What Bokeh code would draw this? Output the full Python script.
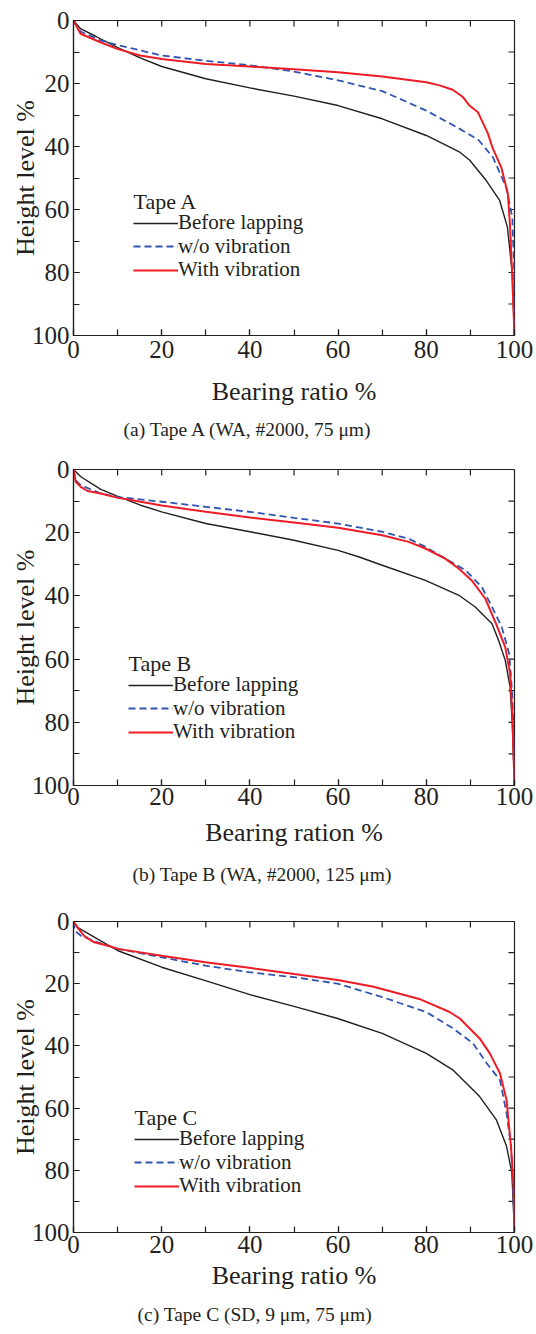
import math
from bokeh.plotting import figure
from bokeh.models import Range1d, SingleIntervalTicker, Legend, LegendItem, Label
from bokeh.layouts import column
from bokeh.embed import file_html
from bokeh.resources import INLINE

FONT = "Liberation Serif"
INK = "#231f20"
RED = "#ee1c25"
BLUE = "#2f55b0"

# ---------------- data (bearing ratio %, height level %) ----------------
a_before_x = [0, 1.6, 5, 9.9, 15, 20, 30, 40, 50, 60, 70, 80, 87.6, 89.8, 93.6, 96.6, 98.4, 99.5, 100]
a_before_y = [0, 2.6, 5.0, 8.5, 11.8, 14.6, 18.5, 21.4, 24.0, 27.0, 31.2, 36.5, 41.8, 44.3, 50.8, 57, 65.6, 80.4, 100]
a_wo_x = [0, 1.6, 6.1, 10, 20, 30, 40, 50, 60, 70, 80, 87.6, 91.9, 95.1, 98.1, 99.5, 99.9, 100]
a_wo_y = [0, 3.5, 6.3, 7.8, 11.1, 12.8, 14.2, 16.2, 19.0, 22.4, 28.6, 34.4, 38.0, 43.4, 52.9, 62.4, 78.3, 100]
a_with_x = [0, 1.6, 6.1, 9.9, 15.1, 20, 30, 40, 50, 60, 70, 80, 83, 86, 88.3, 89.8, 91.7, 94.0, 95.1, 97.0, 98.5, 99.0, 99.4, 100]
a_with_y = [0, 4.2, 6.9, 9.0, 11.1, 12.2, 13.8, 14.6, 15.5, 16.4, 17.8, 19.6, 20.6, 22.0, 24.3, 27.0, 29.1, 36.0, 40.7, 46.6, 55.0, 65.6, 78.3, 100]

b_before_x = [0, 1.65, 6.2, 9.9, 15.2, 20, 30, 40, 50, 60, 64.8, 70, 79.8, 87.4, 91.1, 94.9, 96.4, 97.9, 99, 99.5, 100]
b_before_y = [0, 2.3, 6.3, 8.4, 11.3, 13.4, 17.1, 19.7, 22.4, 25.6, 27.7, 30.3, 35.1, 39.8, 43.5, 48.8, 54.1, 60.4, 68.8, 80.5, 100]
b_wo_x = [0, 0.5, 1.65, 6.2, 9.9, 20, 30, 40, 50, 60, 70, 76, 79.8, 84.3, 88.9, 92.6, 94.9, 97.1, 98.8, 99.5, 99.85, 100]
b_wo_y = [0, 3.4, 5.0, 7.6, 8.7, 10.2, 11.8, 13.4, 15.3, 17.1, 19.7, 21.9, 24.5, 28.2, 31.9, 37.2, 43.5, 49.8, 58.3, 71, 85.7, 100]
b_with_x = [0, 0.5, 1.65, 3.2, 6.2, 9.9, 15.2, 20, 30, 40, 50, 60, 70, 76, 79.8, 84.3, 87.4, 90.3, 93.4, 95.8, 97.9, 99, 99.5, 100]
b_with_y = [0, 3.9, 5.5, 6.8, 7.6, 8.9, 10.2, 11.4, 13.4, 15.2, 16.8, 18.4, 20.8, 22.9, 25, 28.2, 31.4, 35.1, 40.9, 48.8, 56.2, 64.6, 77.3, 100]

c_before_x = [0, 0.9, 5.5, 10.1, 20, 29.9, 40, 50, 59.9, 70, 80, 86.1, 92.1, 95.9, 98.2, 99.4, 100]
c_before_y = [0, 1.9, 5.7, 9.4, 14.7, 19.0, 23.5, 27.3, 31.2, 36, 42.4, 47.8, 56.3, 63.8, 72.3, 80.8, 100]
c_wo_x = [0, 0.3, 1.7, 5.5, 10.1, 20, 29.9, 39.8, 50, 59.9, 70, 80, 86.1, 90.6, 93.7, 96.7, 98.2, 99.2, 99.6, 100]
c_wo_y = [0, 3, 4.6, 6.7, 8.8, 11.5, 14.2, 16.3, 17.9, 20, 24.3, 29.1, 34.4, 39.2, 45.6, 51, 61.6, 72.3, 83, 100]
c_with_x = [0, 0.9, 2.4, 4.7, 7.8, 10.1, 20, 29.9, 39.8, 50, 59.9, 67.8, 78.4, 85.3, 87.6, 92.1, 94.4, 96.7, 98.2, 99.2, 99.8, 100]
c_with_y = [0, 1.9, 4.6, 6.7, 7.8, 8.8, 11, 13.1, 14.9, 16.9, 18.8, 20.9, 24.9, 29.1, 31.2, 37.6, 42.4, 48.8, 57.4, 72.3, 85, 100]

series_labels = ["Before lapping", "w/o vibration", "With vibration"]
tape_titles = ["Tape A", "Tape B", "Tape C"]
x_labels = ["Bearing ratio %", "Bearing ration %", "Bearing ratio %"]
y_label = "Height level %"
captions = ["(a) Tape A (WA, #2000, 75 \u03bcm)",
            "(b) Tape B (WA, #2000, 125 \u03bcm)",
            "(c) Tape C (SD, 9 \u03bcm, 75 \u03bcm)"]
edge_ticks = [10, 20, 30, 40, 50, 60, 70, 80, 90]
x_start, x_end = 0, 100
y_top, y_bottom = 0, 100


def style_axis(ax):
    ax.ticker = SingleIntervalTicker(interval=20, num_minor_ticks=2)
    ax.major_tick_in = 6
    ax.major_tick_out = 0
    ax.minor_tick_in = 6
    ax.minor_tick_out = 0
    ax.axis_line_color = INK
    ax.axis_line_width = 1.2
    ax.major_tick_line_color = INK
    ax.major_tick_line_width = 1.2
    ax.minor_tick_line_color = INK
    ax.minor_tick_line_width = 1.2
    ax.major_label_text_font = FONT
    ax.major_label_text_color = INK
    ax.major_label_text_font_size = "25px"
    ax.axis_label_text_font = FONT
    ax.axis_label_text_font_size = "26px"
    ax.axis_label_text_font_style = "normal"
    ax.axis_label_text_color = INK


def make_panel(i, series, height, bl, br, bt, bb, leg_x, row_ys, title_y, cap_offset,
               tick_so, xlab_so, title_so):
    p = figure(width=536, height=height, output_backend="svg", toolbar_location=None,
               x_range=Range1d(x_start, x_end), y_range=Range1d(y_bottom, y_top),
               min_border_left=bl, min_border_right=br, min_border_top=bt, min_border_bottom=bb,
               title=captions[i], title_location="below",
               x_axis_label=x_labels[i], y_axis_label=y_label)
    p.grid.visible = False
    p.outline_line_color = INK
    p.outline_line_width = 1.2
    p.background_fill_color = "white"
    p.border_fill_color = "white"

    style_axis(p.xaxis[0])
    style_axis(p.yaxis[0])
    p.xaxis[0].major_label_standoff = tick_so
    p.xaxis[0].axis_label_standoff = xlab_so
    p.yaxis[0].major_label_standoff = 4
    p.yaxis[0].axis_label_standoff = -11

    # inward ticks on the top and right frame edges (half of each dash is clipped by the frame)
    n = len(edge_ticks)
    p.scatter(edge_ticks, [y_top] * n, marker="dash", size=12, angle=math.pi / 2,
              line_color=INK, line_width=1.2)
    p.scatter([x_end] * n, edge_ticks, marker="dash", size=12,
              line_color=INK, line_width=1.2)

    p.title.text_font = FONT
    p.title.text_font_size = "19.5px"
    p.title.text_font_style = "normal"
    p.title.text_color = INK
    p.title.align = "left"
    p.title.offset = cap_offset
    p.title.standoff = title_so

    (bx, by), (wx, wy), (vx, vy) = series
    r1 = p.line(bx, by, line_color=INK, line_width=1.4)
    r2 = p.line(wx, wy, line_color=BLUE, line_width=1.8, line_dash="7 4")
    r3 = p.line(vx, vy, line_color=RED, line_width=2.0)

    # legend: one single-item legend per row (top to bottom) so the row pitch matches the original
    for r, lab, ry in zip([r1, r2, r3], series_labels, row_ys):
        leg = Legend(items=[LegendItem(label=lab, renderers=[r])], location=(leg_x, ry),
                     glyph_width=45, glyph_height=18, label_standoff=0, label_height=18,
                     spacing=0, padding=0, margin=0,
                     background_fill_alpha=0, border_line_alpha=0)
        leg.label_text_font = FONT
        leg.label_text_font_size = "21px"
        leg.label_text_color = INK
        p.add_layout(leg)

    p.add_layout(Label(x=leg_x, y=title_y, x_units="screen", y_units="screen",
                       text=tape_titles[i], text_font=FONT, text_font_size="22px",
                       text_color=INK, text_baseline="middle", text_align="left"))
    return p


pa = make_panel(0, [(a_before_x, a_before_y), (a_wo_x, a_wo_y), (a_with_x, a_with_y)],
                457, 69, 21, 20, 122, 60, [100, 76.5, 53], 134, 50, 5, 16, 17)
pb = make_panel(1, [(b_before_x, b_before_y), (b_wo_x, b_wo_y), (b_with_x, b_with_y)],
                452, 69, 20, 12, 124, 55, [88, 64.5, 41], 122, 59, 2, 10, 24)
pc = make_panel(2, [(c_before_x, c_before_y), (c_wo_x, c_wo_y), (c_with_x, c_with_y)],
                425, 73, 22, 12, 101, 61, [81, 57.5, 34], 115, 64, 3, 5, 19)

layout = column(pa, pb, pc, spacing=0)
open("out.html", "w").write(file_html(layout, INLINE))
